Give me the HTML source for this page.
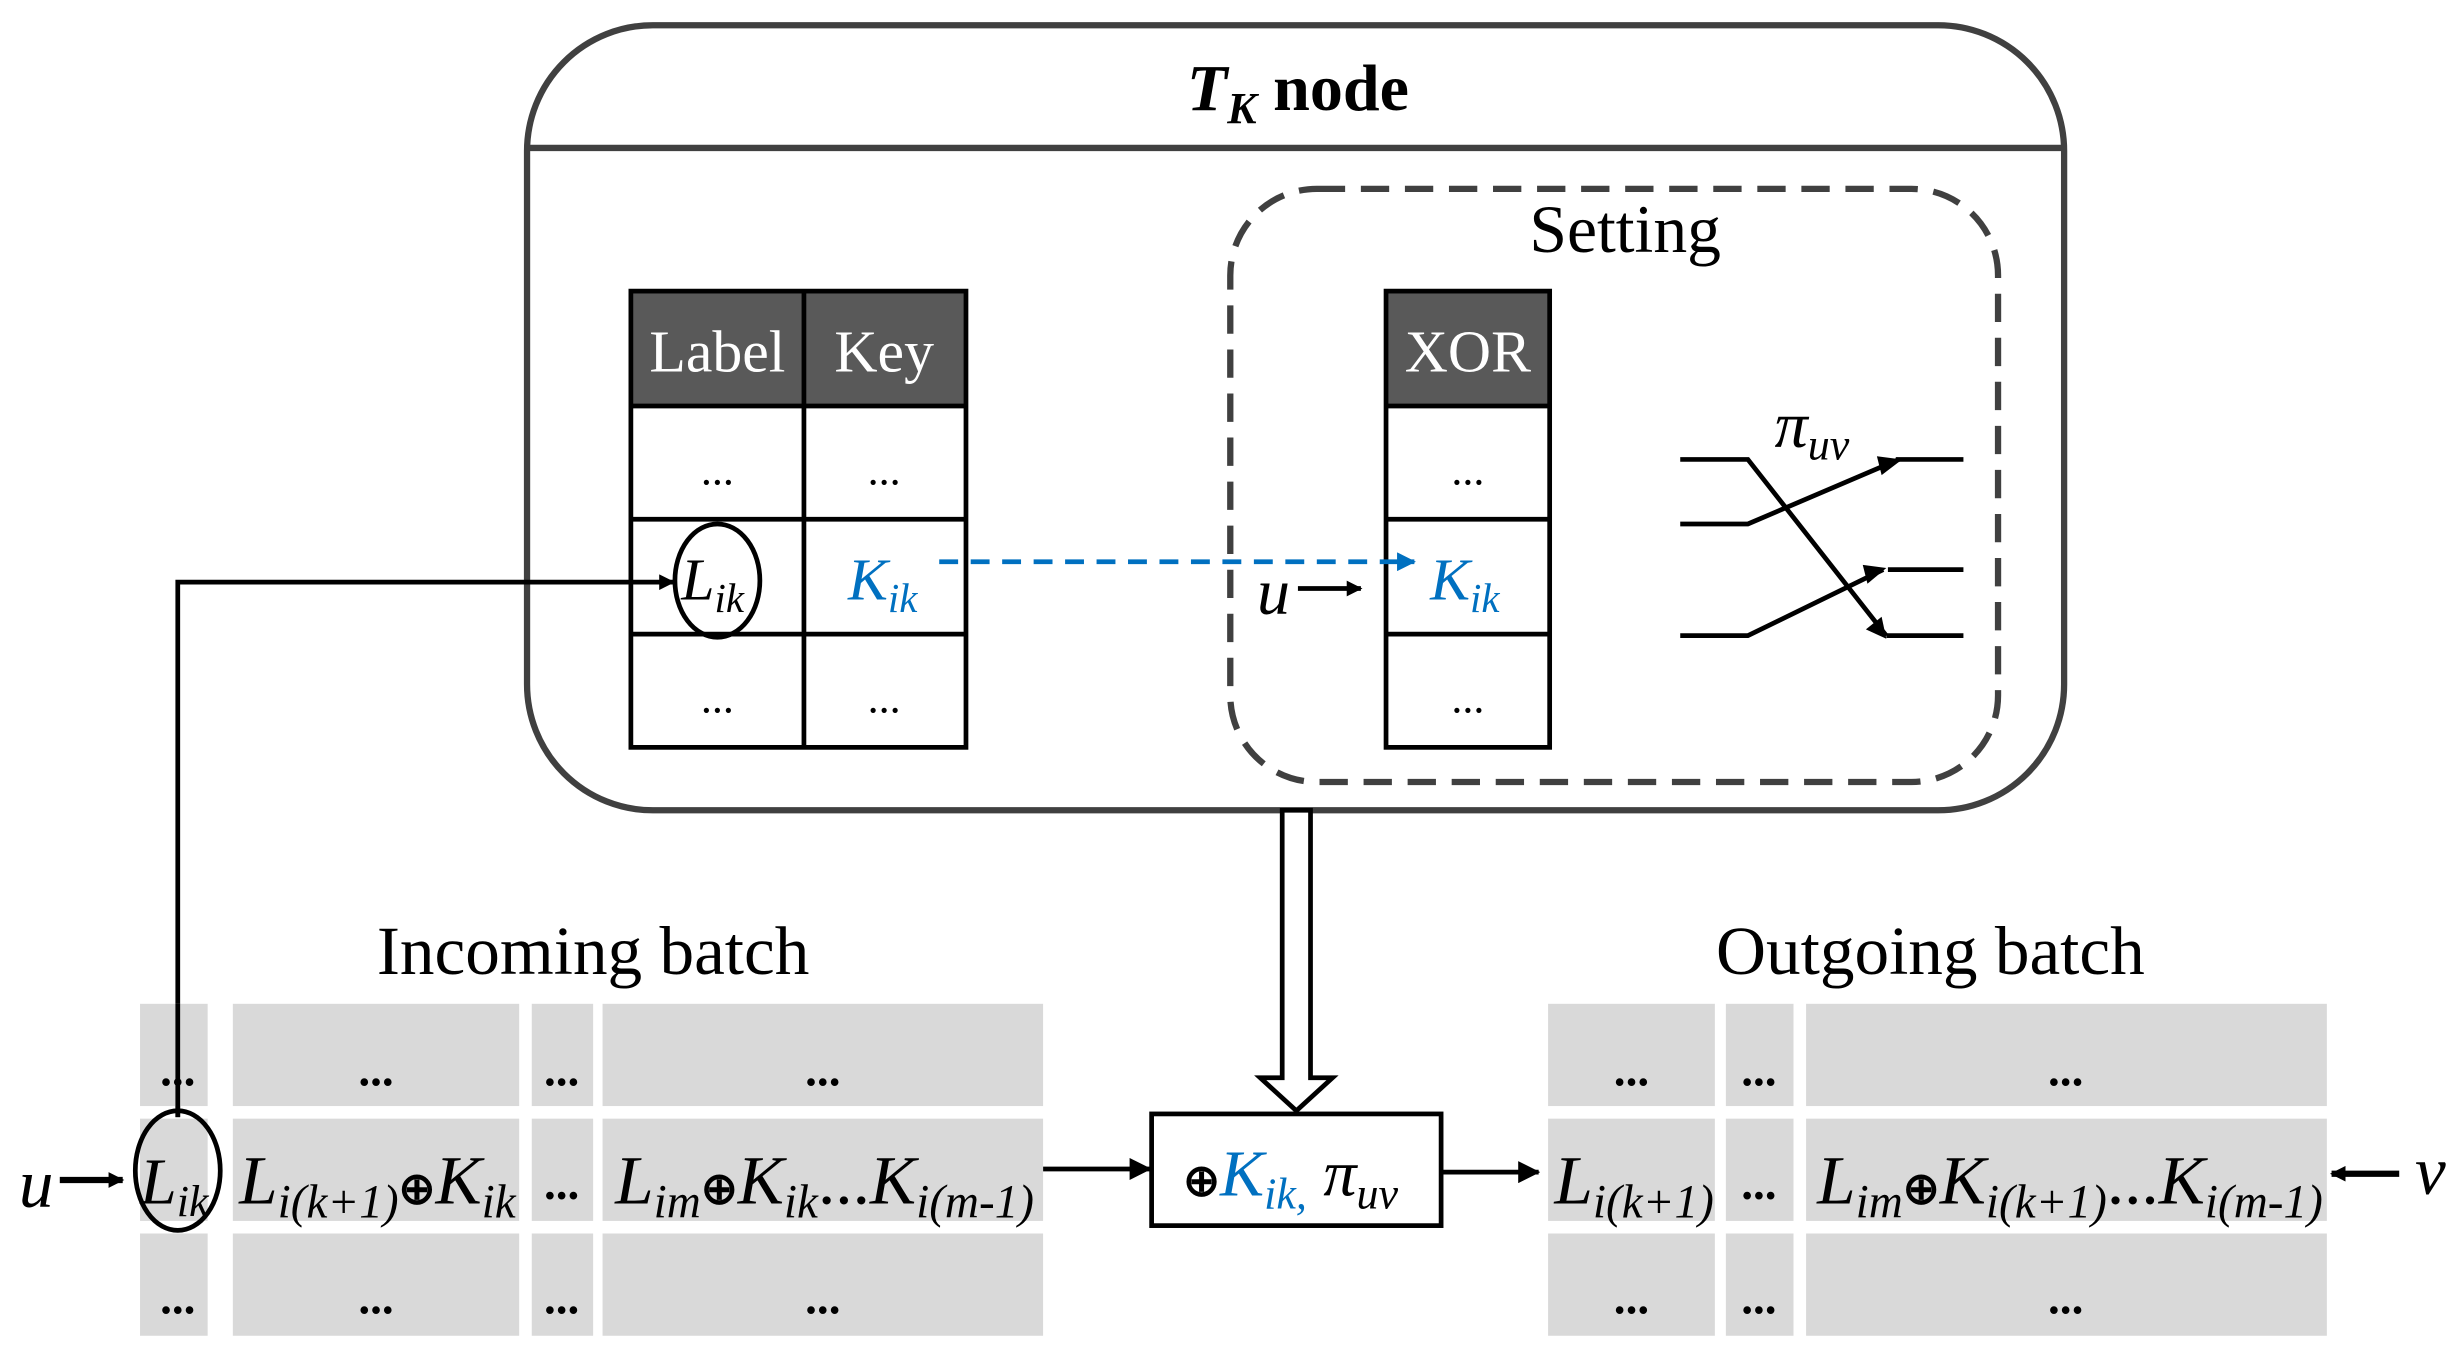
<!DOCTYPE html>
<html><head><meta charset="utf-8"><style>html,body{margin:0;padding:0;background:#fff}svg{display:block}</style></head>
<body>
<svg width="2459" height="1372" viewBox="0 0 1563 872" xmlns="http://www.w3.org/2000/svg" font-family="Liberation Serif, serif">
<defs>
<marker id="ab" markerWidth="10" markerHeight="10" refX="9" refY="5" orient="auto" markerUnits="userSpaceOnUse"><path d="M0,0 L10,5 L0,10 z" fill="#000"/></marker>
<marker id="abig" markerWidth="14" markerHeight="14" refX="13" refY="7" orient="auto" markerUnits="userSpaceOnUse"><path d="M0,0 L14,7 L0,14 z" fill="#000"/></marker>
<marker id="ablue" markerWidth="12" markerHeight="12" refX="11" refY="6" orient="auto" markerUnits="userSpaceOnUse"><path d="M0,0 L12,6 L0,12 z" fill="#0070C0"/></marker>
</defs>
<rect width="1563" height="872" fill="#fff"/>
<rect x="335" y="16" width="977" height="499" rx="80" fill="none" stroke="#404040" stroke-width="4"/>
<line x1="335" y1="94" x2="1312" y2="94" stroke="#404040" stroke-width="4"/>
<text x="825" y="70" text-anchor="middle" font-size="42" font-weight="bold"><tspan font-style="italic">T</tspan><tspan font-style="italic" font-size="28" dy="8">K</tspan><tspan dy="-8"> node</tspan></text>
<rect x="782" y="120" width="488" height="377" rx="55" fill="none" stroke="#404040" stroke-width="4" stroke-dasharray="18,10"/>
<text x="1033" y="160" text-anchor="middle" font-size="43">Setting</text>
<rect x="401" y="185" width="213" height="73" fill="#595959"/>
<g stroke="#000" stroke-width="3" fill="none">
<rect x="401" y="185" width="213" height="290"/>
<line x1="511" y1="185" x2="511" y2="475"/>
<line x1="401" y1="258" x2="614" y2="258"/><line x1="401" y1="330" x2="614" y2="330"/><line x1="401" y1="403" x2="614" y2="403"/>
</g>
<text x="456" y="236" text-anchor="middle" font-size="38" fill="#fff">Label</text>
<text x="562" y="236" text-anchor="middle" font-size="38" fill="#fff">Key</text>
<g font-size="28" text-anchor="middle"><text x="456" y="308">...</text><text x="562" y="308">...</text><text x="456" y="453">...</text><text x="562" y="453">...</text></g>
<text x="433" y="381" font-size="38" font-style="italic">L<tspan font-size="26" dy="8">ik</tspan></text>
<ellipse cx="456" cy="369" rx="27" ry="36" fill="none" stroke="#000" stroke-width="3"/>
<text x="539" y="381" font-size="38" font-style="italic" fill="#0070C0">K<tspan font-size="26" dy="8">ik</tspan></text>
<rect x="881" y="185" width="104" height="73" fill="#595959"/>
<g stroke="#000" stroke-width="3" fill="none">
<rect x="881" y="185" width="104" height="290"/>
<line x1="881" y1="258" x2="985" y2="258"/><line x1="881" y1="330" x2="985" y2="330"/><line x1="881" y1="403" x2="985" y2="403"/>
</g>
<text x="933" y="236" text-anchor="middle" font-size="38" fill="#fff">XOR</text>
<g font-size="28" text-anchor="middle"><text x="933" y="308">...</text><text x="933" y="453">...</text></g>
<text x="909" y="381" font-size="38" font-style="italic" fill="#0070C0">K<tspan font-size="26" dy="8">ik</tspan></text>
<line x1="597" y1="357" x2="899" y2="357" stroke="#0070C0" stroke-width="3" stroke-dasharray="12,8" marker-end="url(#ablue)"/>
<text x="799" y="390" font-size="42" font-style="italic">u</text>
<line x1="825" y1="374" x2="865" y2="374" stroke="#000" stroke-width="3" marker-end="url(#ab)"/>
<g stroke="#000" stroke-width="3" fill="none">
<polyline points="1068,292 1111,292 1199,404"/>
<line x1="1199" y1="404" x2="1248" y2="404"/>
<polyline points="1068,333 1111,333 1207,292"/>
<line x1="1205" y1="292" x2="1248" y2="292"/>
<polyline points="1068,404 1111,404 1197,362"/>
<line x1="1200" y1="362" x2="1248" y2="362"/>
</g>
<path d="M1199,406 L1186,400 L1196,392 z" fill="#000"/>
<path d="M1209,292 L1196,302 L1193,290 z" fill="#000"/>
<path d="M1199,361 L1187,371 L1184,359 z" fill="#000"/>
<text x="1128" y="284" font-size="42" font-style="italic">π<tspan font-size="28" dy="8">uv</tspan></text>
<polyline points="113,710 113,370 428,370" fill="none" stroke="#000" stroke-width="3" marker-end="url(#ab)"/>
<path d="M815,515 L833,515 L833,685 L847,685 L824,706 L801,685 L815,685 z" fill="#fff" stroke="#000" stroke-width="3"/>
<rect x="732" y="708" width="184" height="71" fill="#fff" stroke="#000" stroke-width="3"/>
<text x="752" y="760" font-size="42" font-style="italic"><tspan font-style="normal" font-size="28" font-weight="bold">⊕</tspan><tspan fill="#0070C0">K</tspan><tspan fill="#0070C0" font-size="28" dy="8">ik,</tspan><tspan dy="-8"> π</tspan><tspan font-size="28" dy="8">uv</tspan></text>
<line x1="663" y1="743" x2="731" y2="743" stroke="#000" stroke-width="3" marker-end="url(#abig)"/>
<line x1="916" y1="745" x2="978" y2="745" stroke="#000" stroke-width="3" marker-end="url(#abig)"/>
<text x="377" y="619" text-anchor="middle" font-size="44">Incoming batch</text>
<g fill="#D9D9D9">
<rect x="89" y="638" width="43" height="65"/><rect x="148" y="638" width="182" height="65"/><rect x="338" y="638" width="39" height="65"/><rect x="383" y="638" width="280" height="65"/>
<rect x="89" y="711" width="43" height="65"/><rect x="148" y="711" width="182" height="65"/><rect x="338" y="711" width="39" height="65"/><rect x="383" y="711" width="280" height="65"/>
<rect x="89" y="784" width="43" height="65"/><rect x="148" y="784" width="182" height="65"/><rect x="338" y="784" width="39" height="65"/><rect x="383" y="784" width="280" height="65"/>
</g>
<line x1="113" y1="638" x2="113" y2="710" stroke="#000" stroke-width="3"/>
<g font-size="30" text-anchor="middle" font-weight="bold">
<text x="113" y="690">...</text><text x="239" y="690">...</text><text x="357" y="690">...</text><text x="523" y="690">...</text>
<text x="113" y="835">...</text><text x="239" y="835">...</text><text x="357" y="835">...</text><text x="523" y="835">...</text>
<text x="357" y="762">...</text>
</g>
<text x="12" y="767" font-size="44" font-style="italic">u</text>
<line x1="38" y1="750" x2="78" y2="750" stroke="#000" stroke-width="4" marker-end="url(#ab)"/>
<text x="89" y="765" font-size="42" font-style="italic">L<tspan font-size="28" dy="8">ik</tspan></text>
<ellipse cx="113" cy="744" rx="27" ry="38" fill="none" stroke="#000" stroke-width="3"/>
<text x="152" y="765" font-size="44" font-style="italic">L<tspan font-size="30" dy="9">i(k+1)</tspan><tspan dy="-9" font-style="normal" font-weight="bold" font-size="28">⊕</tspan><tspan>K</tspan><tspan font-size="30" dy="9">ik</tspan></text>
<text x="391" y="765" font-size="44" font-style="italic">L<tspan font-size="30" dy="9">im</tspan><tspan dy="-9" font-style="normal" font-weight="bold" font-size="28">⊕</tspan><tspan>K</tspan><tspan font-size="30" dy="9">ik</tspan><tspan dy="-9" font-style="normal">...</tspan><tspan>K</tspan><tspan font-size="30" dy="9">i(m-1)</tspan></text>
<text x="1227" y="619" text-anchor="middle" font-size="44">Outgoing batch</text>
<g fill="#D9D9D9">
<rect x="984" y="638" width="106" height="65"/><rect x="1097" y="638" width="43" height="65"/><rect x="1148" y="638" width="331" height="65"/>
<rect x="984" y="711" width="106" height="65"/><rect x="1097" y="711" width="43" height="65"/><rect x="1148" y="711" width="331" height="65"/>
<rect x="984" y="784" width="106" height="65"/><rect x="1097" y="784" width="43" height="65"/><rect x="1148" y="784" width="331" height="65"/>
</g>
<g font-size="30" text-anchor="middle" font-weight="bold">
<text x="1037" y="690">...</text><text x="1118" y="690">...</text><text x="1313" y="690">...</text>
<text x="1037" y="835">...</text><text x="1118" y="835">...</text><text x="1313" y="835">...</text>
<text x="1118" y="762">...</text>
</g>
<text x="988" y="765" font-size="44" font-style="italic">L<tspan font-size="30" dy="9">i(k+1)</tspan></text>
<text x="1155" y="765" font-size="44" font-style="italic">L<tspan font-size="30" dy="9">im</tspan><tspan dy="-9" font-style="normal" font-weight="bold" font-size="28">⊕</tspan><tspan>K</tspan><tspan font-size="30" dy="9">i(k+1)</tspan><tspan dy="-9" font-style="normal">...</tspan><tspan>K</tspan><tspan font-size="30" dy="9">i(m-1)</tspan></text>
<line x1="1525" y1="746" x2="1482" y2="746" stroke="#000" stroke-width="4" marker-end="url(#ab)"/>
<text x="1535" y="759" font-size="44" font-style="italic">v</text>
</svg>
</body></html>
